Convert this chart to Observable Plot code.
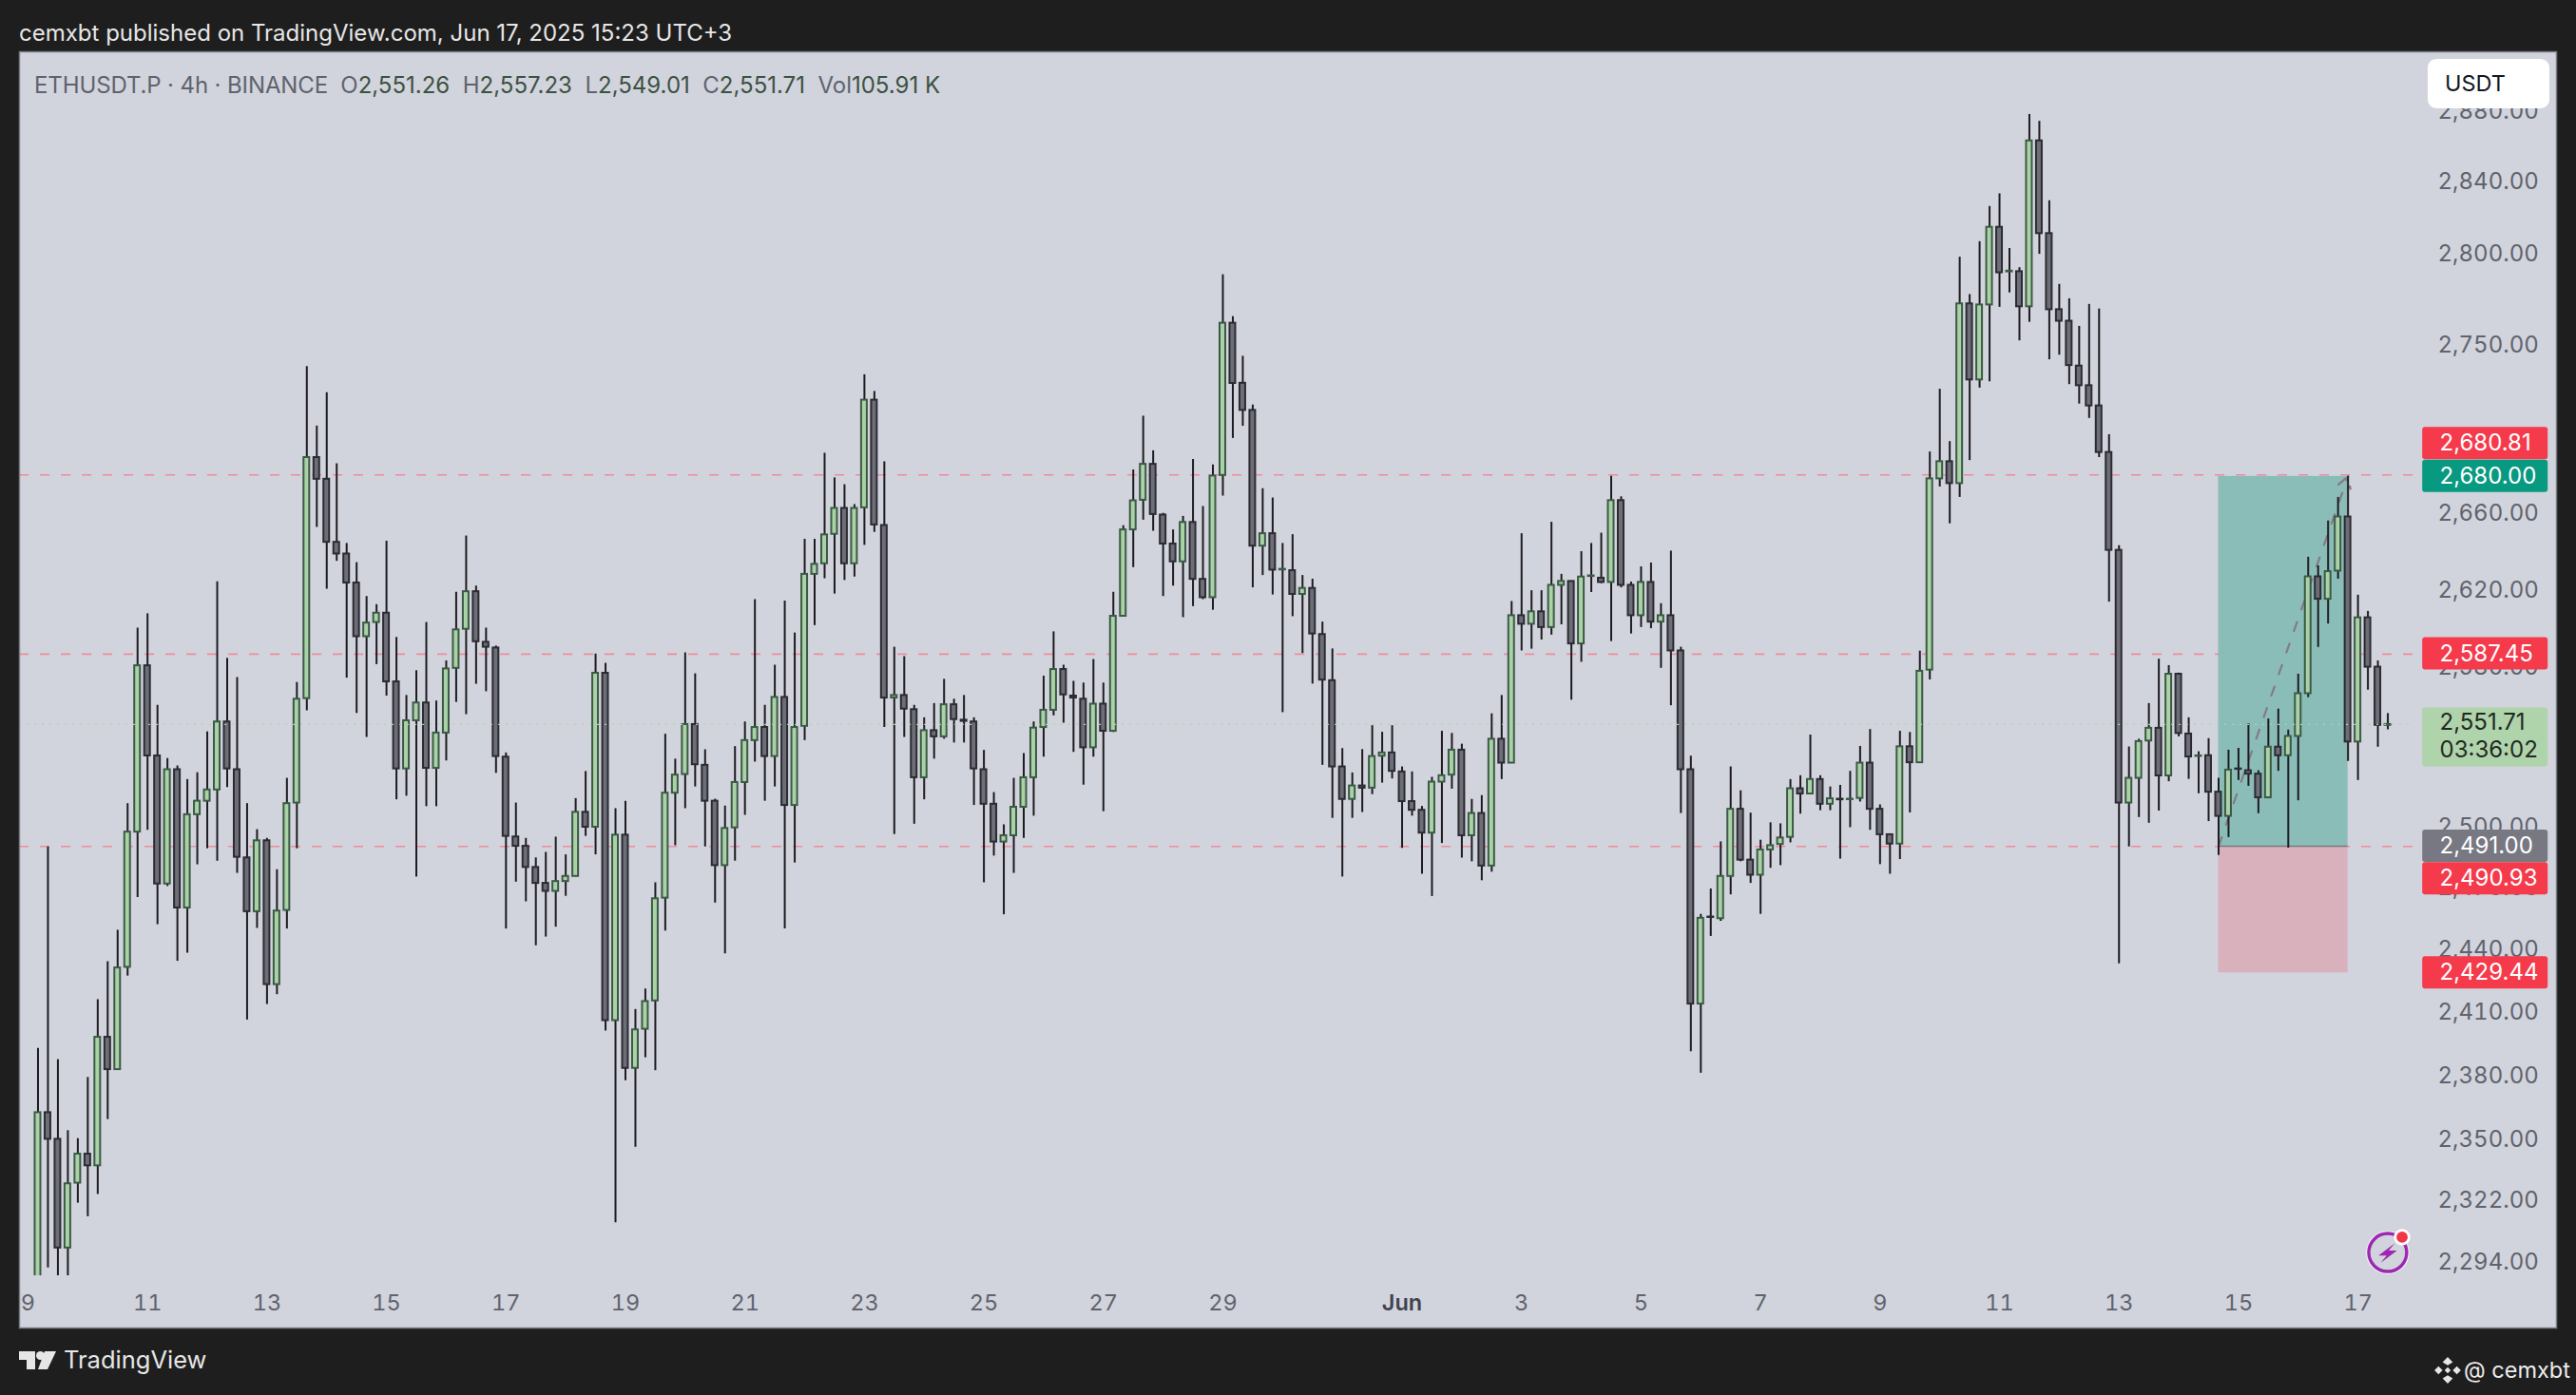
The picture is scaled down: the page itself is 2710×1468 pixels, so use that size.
<!DOCTYPE html>
<html><head><meta charset="utf-8">
<script src="https://cdn.jsdelivr.net/npm/d3@7"></script>
<script src="https://cdn.jsdelivr.net/npm/@observablehq/plot@0.6"></script>
<style>
html,body{margin:0;padding:0;background:#1e1e1e;width:2710px;height:1468px;overflow:hidden;font-family:Inter,"Noto Sans",sans-serif}
#chart{position:absolute;left:0;top:0}
.o{position:absolute;white-space:pre}
</style></head><body>
<div id="chart"></div>
<div class="o" id="hdr" style="left:20px;top:20px;font-size:24px;line-height:30px;color:#e6e6e6">cemxbt published on TradingView.com, Jun 17, 2025 15:23 UTC+3</div>
<div class="o" id="legend" style="left:36px;top:75px;font-size:24px;line-height:30px;color:#5f636e"></div>
<div class="o" style="left:2554px;top:62px;width:128px;height:52px;background:#fff;border-radius:9px"></div>
<div class="o" style="left:2572px;top:73px;font-size:23.5px;line-height:30px;color:#131722">USDT</div>
<svg class="o" style="left:20px;top:1422px" width="40" height="20" viewBox="0 0 40 20"><path d="M0 0H17V19H8V9H0Z M27 0L39 0L30 19H20Z" fill="#e6e6e6"/><circle cx="22.5" cy="4.5" r="4.5" fill="#e6e6e6"/></svg>
<div class="o" style="left:67px;top:1414px;font-size:25.5px;line-height:34px;color:#e6e6e6">TradingView</div>
<svg class="o" style="left:2560px;top:1427px" width="30" height="30" viewBox="0 0 28 28"><g fill="#e6e6e6"><path d="M14 1L19 6L14 9L9 6Z M14 27L9 22L14 19L19 22Z M1 14L5 10L9 14L5 18Z M27 14L23 10L19 14L23 18Z M14 11L17 14L14 17L11 14Z"/></g></svg>
<div class="o" style="left:2592px;top:1426px;font-size:23.5px;line-height:32px;color:#ececec">@ cemxbt</div>
<svg class="o" style="left:2486px;top:1290px" width="54" height="54" viewBox="0 0 50 50"><circle cx="24" cy="26" r="21" fill="#fff"/><circle cx="24" cy="26" r="18.5" fill="#d1d4dc" stroke="#9c27b0" stroke-width="3.2"/><path d="M31 17L15 29H23L17 36L33 24H25Z" fill="#9c27b0"/><circle cx="38" cy="11" r="8" fill="#fff"/><circle cx="38" cy="11" r="5.5" fill="#f23645"/></svg>
<script>
const opens=[2280,2363.2,2350.8,2300.8,2330.5,2343.9,2338.5,2398.7,2383.4,2432.1,
2498,2581.5,2535.9,2472.5,2529,2460.8,2506.6,2513.3,2518.9,2553,
2529,2485.3,2459,2493.7,2423.8,2459.6,2512.4,2564.8,2690,2678.5,
2645.3,2639.2,2624.1,2596.4,2603.7,2608.5,2573.3,2529.4,2553.6,2562.6,
2529.7,2547.4,2580.2,2600.2,2619.6,2593.5,2590.6,2535.3,2495.6,2491,
2480.6,2472.8,2468.9,2473.7,2476.2,2507.8,2500.4,2577.7,2406.6,2496.5,
2384,2402.5,2416,2465.6,2517.3,2526.6,2551.7,2531.2,2513.3,2481.5,
2500.1,2522.6,2543.6,2550.2,2535.6,2565.4,2511.2,2550.8,2628.6,2634.1,
2649.5,2663.1,2634.1,2663.4,2720.7,2654.1,2565.1,2566.4,2559.2,2525,
2548.6,2545.5,2561.7,2553.9,2553,2529,2511.8,2493.1,2496.2,2510.3,
2525,2550.2,2558.9,2579.6,2566.1,2564.5,2540,2562,2548.3,2606.9,
2651.8,2667.4,2686.4,2659.6,2644.4,2635.1,2655.7,2626,2616.5,2680.5,
2762.4,2729.8,2715.2,2643.3,2649.8,2630.9,2630.5,2618.2,2621.3,2597.5,
2573.9,2530.4,2514.2,2520.9,2519.8,2535.8,2537.4,2527.9,2513.1,2508.8,
2497.5,2522.8,2526.3,2538.8,2496.2,2507.2,2481.3,2544.3,2532.3,2607.2,
2602.8,2609.2,2601.1,2622.9,2624.9,2592.7,2627.5,2626.6,2624.4,2667.2,
2622.9,2607.2,2624.4,2603.9,2607.2,2589.1,2529,2414.5,2456.4,2455.6,
2476.2,2509.3,2484.2,2476.8,2489.2,2491.9,2495.4,2519.5,2516.9,2524.1,
2511.8,2514.2,2514.1,2514.7,2532.3,2509.3,2496.7,2492.1,2540.5,2532.5,
2579.3,2678.7,2687.8,2676.2,2773,2731.6,2772.4,2815.3,2790.6,2790.7,
2771.4,2863.8,2811.8,2769.8,2763.5,2739.1,2728.5,2717.6,2692.7,2641.1,
2512.4,2524.7,2543.4,2549.8,2525.9,2577.2,2546.9,2535.7,2536,2517.8,
2505.8,2529.4,2528.5,2526.8,2515,2540.3,2536,2545.7,2567.3,2627.3,
2615.7,2630.3,2658.6,2542.9,2606.1,2580.8,2551.26];
const highs=[2393.4,2490.7,2388.1,2354.8,2351.1,2379.7,2416.6,2434.8,2450,2512.1,
2600.8,2608.2,2561.4,2534.6,2530.9,2524.1,2527.5,2548,2624.7,2585.3,
2575.5,2512.1,2499.2,2494.9,2479.5,2524.7,2573,2738.8,2706.8,2724.7,
2686.7,2644.7,2634.7,2617.1,2612.9,2645.9,2596,2566.4,2579,2603.7,
2563.6,2584,2619.3,2648.6,2622.5,2600.8,2591.6,2537.4,2512.4,2494.9,
2485.3,2488,2495.5,2486.8,2514.6,2528.1,2587.5,2582.8,2509.6,2513.3,
2411.9,2421.7,2473.1,2546.8,2534.3,2588.1,2577.4,2539,2514.3,2510.9,
2540.6,2553,2615.5,2561.4,2581.8,2614.8,2598.3,2646.9,2646.9,2692.3,
2679.2,2675.6,2665.1,2734.4,2725.4,2687.7,2591,2586.2,2561.4,2555.1,
2562.3,2574.6,2564.5,2566.4,2555.1,2538.7,2517.6,2501.6,2524.7,2537.1,
2553,2576.2,2598.9,2581.8,2573.6,2572.7,2584.7,2572.7,2619.3,2654,
2683.4,2712.1,2693.6,2660.5,2651.8,2658.9,2689,2664.1,2686.1,2789,
2766,2744.4,2718.1,2673.5,2668.6,2644.7,2649.3,2628,2626.1,2603.9,
2590.1,2539.6,2527.4,2539.1,2551.1,2547.8,2551.1,2530.4,2527.9,2510.7,
2525.2,2548.3,2547.2,2541.8,2514.2,2516.1,2557.1,2566.4,2614.5,2649.8,
2620.1,2620.1,2655.8,2628.6,2625.2,2640.4,2644.7,2650.1,2680.1,2669.2,
2624.6,2632.5,2634.5,2613.4,2640.7,2591,2535.8,2457.7,2470.1,2493.2,
2530.4,2518.5,2507.4,2494,2502.6,2502.1,2524.1,2526,2546.4,2526,
2520.4,2521.2,2528.2,2540.7,2549.2,2511.5,2496.9,2548.3,2547.7,2589,
2693,2726.6,2698.5,2798.7,2778.1,2807.3,2826.9,2834,2803.5,2792.9,
2878.8,2874.9,2830.1,2783.7,2775.8,2760.7,2772.7,2770.2,2702.2,2643.5,
2540.4,2544.3,2562.3,2584.9,2581.6,2577.8,2555.1,2538,2544.6,2524.7,
2538.8,2539.7,2552.1,2528.5,2554.5,2559.5,2548.9,2577.2,2637.5,2633,
2656.5,2668.9,2680,2617.8,2609.4,2584,2557.23];
const lows=[2275,2291.8,2280,2280,2321.3,2315.1,2325.3,2360,2383,2427.9,
2465.9,2498.9,2452.7,2471.3,2435,2438.9,2481.9,2489.8,2483.7,2520.1,
2477.7,2406.9,2450.9,2414.3,2419,2450.6,2489.8,2558.6,2653.1,2620.9,
2635.4,2575.2,2557.3,2545.2,2582.1,2566.1,2514,2515.8,2475.9,2510.6,
2510.6,2533.4,2562.9,2556.7,2572.1,2568.3,2527.2,2450.6,2473.4,2463.8,
2442.5,2446.7,2451.5,2466.5,2476,2495.9,2486.8,2401.6,2312.3,2378.2,
2347.1,2389,2382.9,2449.6,2491.3,2509.6,2520.4,2490.7,2463.2,2438.6,
2483.7,2506.3,2532.8,2513.3,2520.4,2450.6,2482.8,2543.6,2602.1,2626.3,
2618.4,2625.4,2627.2,2643.7,2650.5,2550.2,2496.8,2545.2,2501.9,2514,
2534.3,2544.3,2542.4,2542.4,2511.2,2473.1,2486.2,2457.5,2477.7,2494.9,
2505.9,2535.3,2556.1,2552.4,2537.7,2521.3,2535.3,2508.1,2547.7,2606.6,
2632.1,2656.9,2651.1,2617.1,2622.5,2606.2,2611.9,2615.5,2610,2669.6,
2700.2,2706.7,2621.6,2628,2617.9,2557.7,2606.7,2587.8,2572.2,2531.2,
2504.8,2475.9,2504.8,2507.7,2516.6,2522.3,2524.4,2490,2505.9,2477.3,
2466.4,2492.4,2519.3,2485.2,2483.4,2474.1,2478.3,2524.1,2532.1,2589.1,
2590,2594.7,2597.2,2602.5,2564,2583.3,2619.2,2623.8,2593.9,2621.6,
2597.8,2601.1,2600.5,2580.2,2561.2,2507.2,2391.9,2381.7,2447,2454.3,
2467.2,2483.4,2472.8,2457.7,2480.2,2481.5,2492.7,2506.9,2516.8,2508.6,
2508.6,2484.7,2500.2,2512.9,2498.9,2482,2477.3,2484.5,2507.5,2532.3,
2574.3,2674.4,2655,2668.9,2688.4,2727.2,2730.6,2771.1,2779,2752.8,
2762.9,2800.3,2742.5,2745,2729.1,2718.6,2710.9,2690,2614.2,2433.8,
2490.7,2505.2,2502.4,2508.4,2523,2545.5,2524.2,2517,2503.2,2486.5,
2495.3,2523.6,2520.7,2507.1,2514.7,2528.2,2490.1,2513.5,2565.3,2590.9,
2602.9,2626.1,2533.1,2523.6,2569.1,2540.3,2549.01];
const closes=[2363.2,2350.8,2300.8,2330.2,2343.9,2338.5,2398.7,2383.4,2431.8,2498,
2581.5,2535.9,2472.5,2529,2460.8,2506.6,2513.3,2518.9,2553,2529.4,
2485.6,2459,2493.7,2423.8,2459.3,2512.1,2564.5,2690,2678.5,2645.3,
2639.2,2624.1,2596.4,2603.4,2608.5,2573.3,2529.4,2553.6,2562.6,2529.7,
2547.4,2579.9,2599.9,2619.6,2593.8,2591,2535.6,2495.9,2491,2480.6,
2472.8,2468.9,2473.7,2476.2,2507.8,2500.4,2577.7,2406.6,2496.5,2384,
2402.2,2415.7,2465.3,2517.3,2526.3,2551.7,2531.5,2513.3,2481.5,2499.8,
2522.6,2543.6,2550.2,2535.6,2565.4,2511.2,2550.2,2628.6,2633.8,2649.2,
2663.1,2634.1,2663.1,2720.7,2654.4,2565.1,2566.4,2559.5,2525,2548.6,
2545.5,2561.7,2554.2,2553.3,2529.4,2511.8,2493.1,2496.2,2510.3,2525,
2549.9,2558.9,2579.6,2566.7,2565.1,2540,2562,2548.3,2606.9,2651.8,
2667.1,2686.4,2659.9,2644.4,2635.1,2655.7,2626,2616.5,2680.2,2762.4,
2729.7,2715.2,2643.3,2649.8,2630.8,2631.2,2618.2,2621.3,2597.8,2574.2,
2530.4,2514.2,2520.9,2519.8,2535.6,2537.4,2528.2,2513.1,2508.8,2497.5,
2522.8,2526,2538.8,2496.2,2507.2,2481.3,2544.3,2532.3,2607.2,2602.8,
2609.2,2601.1,2622.9,2624.9,2592.7,2627.2,2627.7,2624.4,2667.2,2622.9,
2607.2,2624.4,2603.9,2607.2,2589.1,2529,2414.5,2455.8,2456.2,2476.2,
2509.3,2484.2,2476.8,2489.2,2491.3,2495.1,2519.5,2516.9,2524.1,2511.8,
2514.5,2514,2514.3,2532.3,2509.3,2496.7,2492.1,2540.5,2532.5,2578.7,
2678.7,2687.8,2676.2,2773,2731.6,2772.4,2815.3,2790.1,2791,2771.4,
2863.8,2811.8,2769.8,2763.5,2739.4,2728.5,2717.6,2692.7,2641.1,2512.4,
2524.7,2543.1,2549.8,2525.9,2577.2,2547.2,2535.4,2535.9,2517.8,2505.8,
2528.8,2529.2,2526.8,2515,2540.3,2536,2545.7,2567.3,2627.3,2615.7,
2630,2658.6,2542.9,2606.1,2580.8,2551.3,2551.71];

const priceTicks=[2880,2840,2800,2750,2660,2620,2580,2500,2470,2440,2410,2380,2350,2322,2294];
const dayTicks=[[0,"9"],[12,"11"],[24,"13"],[36,"15"],[48,"17"],[60,"19"],[72,"21"],[84,"23"],[96,"25"],[108,"27"],[120,"29"],[150,"3"],[162,"5"],[174,"7"],[186,"9"],[198,"11"],[210,"13"],[222,"15"],[234,"17"]];
const monthTicks=[[138,"Jun"]];
const dashedLevels=[2680.81,2587.45,2490.93];
const lastPrice=2551.71;
const positionBox={start:220,end:233,target:2680,entry:2491,stop:2429.44};
const badges=[
 {label:"2,680.81",price:2680.81,kind:"alert"},
 {label:"2,680.00",price:2680,kind:"target"},
 {label:"2,587.45",price:2587.45,kind:"alert"},
 {label:"2,551.71",price:2551.71,kind:"last",sub:"03:36:02"},
 {label:"2,491.00",price:2491,kind:"entry"},
 {label:"2,490.93",price:2490.93,kind:"alertLow"},
 {label:"2,429.44",price:2429.44,kind:"alert"}];

for(const a of [highs,lows,closes]) if(a.length!==opens.length) throw new Error("length "+a.length+" vs "+opens.length);

const FONT='Inter,"Noto Sans",sans-serif';
const PANE="#d1d4dc";
const origin=Date.UTC(2025,4,9);
const STEP=4*3600e3;
const tAt=i=>new Date(origin+i*STEP);
const candles=opens.map((o,k)=>({t:k+1,o,h:highs[k],l:lows[k],c:closes[k],up:closes[k]>=o}));
const half=0.286;
const bodyTop=d=>Math.max(d.o,d.c)+(Math.abs(d.o-d.c)<0.2?0.1:0);
const bodyBot=d=>Math.min(d.o,d.c);
const upC=candles.filter(d=>d.up), dnC=candles.filter(d=>!d.up);
const bodies=(data,fill,stroke)=>Plot.rect(data,{x1:d=>tAt(d.t-half),x2:d=>tAt(d.t+half),y1:bodyBot,y2:bodyTop,fill,stroke,strokeWidth:2});

const COLS={alert:"#f43a4b",alertLow:"#f43a4b",target:"#089981",entry:"#787882",last:"#afd3ab"};
const SHIFT={"2,680.81":-33,"2,680.00":0,"2,587.45":-0.5,"2,551.71":13.5,"2,491.00":0,"2,490.93":34,"2,429.44":0};
const badgeMarks=badges.flatMap(b=>{
  const s=SHIFT[b.label], h=b.sub?31:17;
  const out=[Plot.rect([b],{x1:tAt(240.5),x2:tAt(253.1),y1:d=>d.price,y2:d=>d.price,insetTop:s-h,insetBottom:-(s+h),fill:COLS[b.kind],rx:3})];
  const col=b.kind==="last"?"#1f2a22":"#fff";
  out.push(Plot.text([b],{x:tAt(242.2),y:d=>d.price,text:d=>d.label,dy:b.sub?-2:s,fill:col,fontSize:24,fontFamily:FONT,textAnchor:"start"}));
  if(b.sub) out.push(Plot.text([b],{x:tAt(242.2),y:d=>d.price,text:d=>d.sub,dy:27,fill:col,fontSize:24,fontFamily:FONT,textAnchor:"start"}));
  return out;
});

const chart=Plot.plot({
  width:2710,height:1468,marginLeft:20,marginRight:21,marginTop:54,marginBottom:71,
  style:{background:"transparent"},
  x:{type:"utc",domain:[tAt(-0.859),tAt(253.94)],axis:null},
  y:{type:"log",domain:[2264.7,2914.7],axis:null},
  marks:[
    Plot.frame({fill:PANE}),
    Plot.ruleY(dashedLevels,{x1:tAt(-0.85),x2:tAt(239.7),stroke:"#ee8b9c",strokeWidth:1.6,strokeDasharray:"10,12"}),
    Plot.rect([positionBox],{x1:d=>tAt(d.start),x2:d=>tAt(d.end),y1:d=>d.entry,y2:d=>d.target,fill:"#8abdb8"}),
    Plot.rect([positionBox],{x1:d=>tAt(d.start),x2:d=>tAt(d.end),y1:d=>d.stop,y2:d=>d.entry,fill:"#d9b1bc"}),
    Plot.ruleY([positionBox.entry],{x1:tAt(positionBox.start),x2:tAt(positionBox.end),stroke:"#787a82",strokeWidth:1.6}),
    Plot.arrow([positionBox],{x1:d=>tAt(d.start),y1:d=>d.entry,x2:d=>tAt(d.end),y2:d=>d.target,bend:0,stroke:"#857a88",strokeWidth:2.2,strokeDasharray:"10,14",headLength:9}),
    Plot.ruleX(candles,{x:d=>tAt(d.t),y1:d=>d.l,y2:d=>d.h,stroke:"#1f1b21",strokeWidth:2}),
    bodies(upC,"#abd1a7","#3b5a45"),
    bodies(dnC,"#6e6e78","#2c2b32"),
    Plot.ruleY([lastPrice],{x1:tAt(-0.85),x2:tAt(239.7),stroke:"#abd8a2",strokeWidth:1.2,strokeDasharray:"2,6"}),
    Plot.rect([0],{x1:tAt(-0.85),x2:tAt(253.9),y1:2264.7,y2:2288.2,fill:PANE}),
    Plot.axisX(dayTicks.map(d=>tAt(d[0])),{anchor:"bottom",tickSize:0,tickPadding:0,dy:-35,label:null,fill:"#5f636e",fontSize:23.5,fontFamily:FONT,
      tickFormat:d=>dayTicks.find(e=>+tAt(e[0])===+d)[1]}),
    Plot.axisX(monthTicks.map(d=>tAt(d[0])),{anchor:"bottom",tickSize:0,tickPadding:0,dy:-35,label:null,fill:"#3f434e",fontSize:23.5,fontWeight:600,fontFamily:FONT,
      tickFormat:d=>monthTicks[0][1]}),
    Plot.axisY(priceTicks,{anchor:"right",tickSize:0,tickPadding:0,dx:-125,dy:-1,textAnchor:"start",label:null,fill:"#5f636e",fontSize:24,fontFamily:FONT,
      tickFormat:d=>d3.format(",.2f")(d)}),
    ...badgeMarks,
    Plot.frame({stroke:"#797c85",strokeWidth:1.5})
  ]
});
document.getElementById("chart").appendChild(chart);

const legendParts=[["ETHUSDT.P · 4h · BINANCE  ",""],["O","2,551.26"],["  H","2,557.23"],["  L","2,549.01"],["  C","2,551.71"],["  Vol","105.91 K"]];
const lg=document.getElementById("legend");
legendParts.forEach(([a,b],i)=>{
  const s=document.createElement("span");s.textContent=a;if(i===0)s.style.letterSpacing="-0.12px";lg.appendChild(s);
  const v=document.createElement("span");v.textContent=b;v.style.color="#3d5142";lg.appendChild(v);
});
</script>
</body></html>
